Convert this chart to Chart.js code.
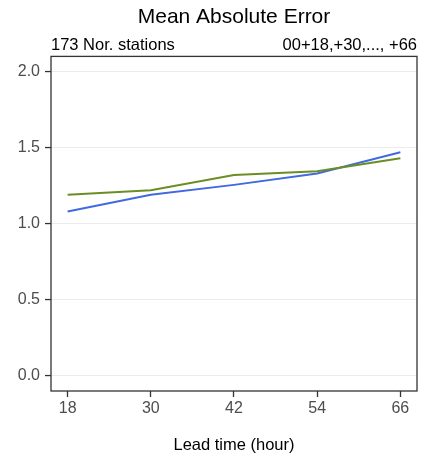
<!DOCTYPE html>
<html>
<head>
<meta charset="utf-8">
<script src="https://cdn.jsdelivr.net/npm/chart.js@4.4.0/dist/chart.umd.min.js"></script>
<style>
  html, body { margin: 0; padding: 0; background: #fff; }
  #wrap { width: 431px; height: 461px; }
</style>
</head>
<body>
<div id="wrap"><canvas id="myChart" width="431" height="461"></canvas></div>
<script>
const leadTimes = [18, 30, 42, 54, 66]
const maeGreen = [1.19, 1.22, 1.32, 1.345, 1.43]
const maeBlue = [1.08, 1.19, 1.255, 1.33, 1.47]
const yTicks = [0, 0.5, 1, 1.5, 2]

const titleText = 'Mean Absolute Error'
const leftNote = '173 Nor. stations'
const rightNote = '00+18,+30,..., +66'
const xTitle = 'Lead time (hour)'

const FONT = "'Liberation Sans', Arial, Helvetica, sans-serif"

const toPoints = (vals) => vals.map((v, i) => ({ x: leadTimes[i], y: v }))

// notes above the panel + the panel border
const panelPlugin = {
  id: 'panel',
  afterDraw: (chart) => {
    const { ctx, chartArea } = chart
    ctx.save()
    ctx.strokeStyle = '#333333'
    ctx.lineWidth = 1.3
    ctx.strokeRect(chartArea.left, chartArea.top, chartArea.right - chartArea.left, chartArea.bottom - chartArea.top)

    ctx.fillStyle = '#000'
    ctx.font = `16.5px ${FONT}`
    ctx.textBaseline = 'alphabetic'
    ctx.textAlign = 'left'
    ctx.fillText(leftNote, chartArea.left, chartArea.top - 6)
    ctx.textAlign = 'right'
    ctx.fillText(rightNote, chartArea.right, chartArea.top - 6)
    ctx.restore()
  }
}

const ctx = document.getElementById('myChart')

new Chart(ctx, {
  type: 'line',
  data: {
    datasets: [
      {
        label: 'green',
        data: toPoints(maeGreen),
        borderColor: '#6b8e23',
        borderWidth: 1.9,
        pointRadius: 0,
        tension: 0
      },
      {
        label: 'blue',
        data: toPoints(maeBlue),
        borderColor: '#4169e1',
        borderWidth: 1.9,
        pointRadius: 0,
        tension: 0
      }
    ]
  },
  options: {
    responsive: false,
    animation: false,
    layout: { padding: { left: 0, right: 14, top: 0, bottom: 0 } },
    plugins: {
      legend: { display: false },
      tooltip: { enabled: false },
      title: {
        display: true,
        text: titleText,
        fullSize: false,
        color: '#000',
        font: { family: FONT, size: 21, weight: 'normal' },
        padding: { top: 4.4, bottom: 26.8 }
      }
    },
    scales: {
      x: {
        type: 'linear',
        min: 15.6,
        max: 68.4,
        afterBuildTicks: (scale) => { scale.ticks = leadTimes.map(v => ({ value: v })) },
        afterFit: (scale) => { scale.height = 70 },
        ticks: {
          color: '#4d4d4d',
          font: { family: FONT, size: 16 },
          padding: 2,
          maxRotation: 0,
          autoSkip: false,
          callback: (v) => v
        },
        grid: {
          drawOnChartArea: false,
          drawTicks: true,
          tickLength: 6,
          tickColor: '#333333',
          tickWidth: 1.3
        },
        border: { display: false },
        title: {
          display: true,
          text: xTitle,
          color: '#000',
          font: { family: FONT, size: 16.5 },
          padding: { top: 0, bottom: 6 }
        }
      },
      y: {
        min: -0.1,
        max: 2.1,
        afterBuildTicks: (scale) => { scale.ticks = yTicks.map(v => ({ value: v })) },
        afterFit: (scale) => { scale.width = 51 },
        ticks: {
          color: '#4d4d4d',
          font: { family: FONT, size: 16 },
          padding: 5,
          autoSkip: false,
          callback: (v) => Number(v).toFixed(1)
        },
        grid: {
          color: '#ebebeb',
          lineWidth: 1.1,
          tickLength: 6,
          tickColor: '#333333',
          tickWidth: 1.3
        },
        border: { display: false }
      }
    }
  },
  plugins: [panelPlugin]
})
</script>
</body>
</html>
